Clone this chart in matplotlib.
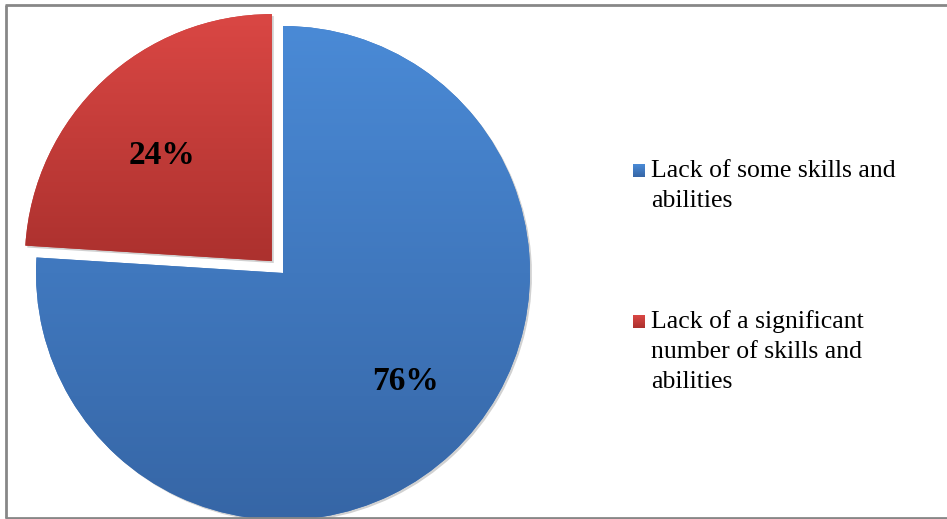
import textwrap
import numpy as np
import matplotlib
matplotlib.use("Agg")
import matplotlib.pyplot as plt
from matplotlib.colors import LinearSegmentedColormap

# ---- data ----
categories = ["Lack of some skills and abilities",
              "Lack of a significant number of skills and abilities"]
values = [76, 24]
explode_frac = [0.0, 0.066]
colors_top = ["#4A8AD6", "#DA4744"]
colors_bot = ["#3666A6", "#AC312E"]
colors_mid = ["#3F77BE", "#C43C39"]

W, H = 947, 519
fig = plt.figure(figsize=(W / 100, H / 100), dpi=100)
ax = fig.add_axes([0, 0, 1, 1])

cx, cy, R = 283, H - 273, 247
wedges, texts, autotexts = ax.pie(
    values, explode=[e * R for e in explode_frac], colors=colors_mid,
    startangle=90, counterclock=False, center=(cx, cy), radius=R,
    autopct="%d%%", pctdistance=0.64,
    shadow=dict(ox=1.4, oy=-1.4, facecolor="#000000", edgecolor="none",
                alpha=0.18),
    wedgeprops=dict(edgecolor="none", linewidth=0),
    textprops=dict(fontfamily="Liberation Serif", fontsize=24,
                   fontweight="bold", color="black"))
ax.set_xlim(0, W)
ax.set_ylim(0, H)
ax.set_aspect("equal")
ax.axis("off")

# vertical gradient inside each wedge
for w, ct, cb in zip(wedges, colors_top, colors_bot):
    cmap = LinearSegmentedColormap.from_list("g", [cb, ct])
    bb = w.get_path().get_extents(w.get_patch_transform())
    grad = np.linspace(0, 1, 256).reshape(-1, 1)
    im = ax.imshow(grad, cmap=cmap, origin="lower", aspect="auto",
                   extent=(bb.x0, bb.x1, bb.y0, bb.y1), zorder=w.get_zorder() + 0.2)
    im.set_clip_path(w)
for t in autotexts:
    t.set_zorder(5)

# label positions
autotexts[0].set_position((405, H - 381))
autotexts[1].set_position((162, H - 155))

# legend (manual)
leg_x_box, leg_x_text = 633, 651
leg_baselines = [177, 328]
line_step = 30
for lab, ct, cb, yb in zip(categories, colors_top, colors_bot, leg_baselines):
    cmap = LinearSegmentedColormap.from_list("g", [cb, ct])
    grad = np.linspace(0, 1, 32).reshape(-1, 1)
    y0 = H - yb
    ax.imshow(grad, cmap=cmap, origin="lower", aspect="auto",
              extent=(leg_x_box, leg_x_box + 12, y0, y0 + 13), zorder=6)
    for i, line in enumerate(textwrap.wrap(lab, 23)):
        ax.text(leg_x_text, H - yb - i * line_step, line,
                fontfamily="Liberation Serif", fontsize=18.5, va="baseline",
                ha="left", color="black")
ax.set_xlim(0, W)
ax.set_ylim(0, H)

# border
bc = "#878787"
ax.plot([6, 6], [H - 5, H - 518], color=bc, lw=2, solid_capstyle="butt", zorder=10)
ax.plot([5, W], [H - 5, H - 5], color=bc, lw=2, solid_capstyle="butt", zorder=10)
ax.plot([5, W], [H - 518, H - 518], color=bc, lw=2, solid_capstyle="butt", zorder=10)

fig.savefig("out.png", dpi=100)
